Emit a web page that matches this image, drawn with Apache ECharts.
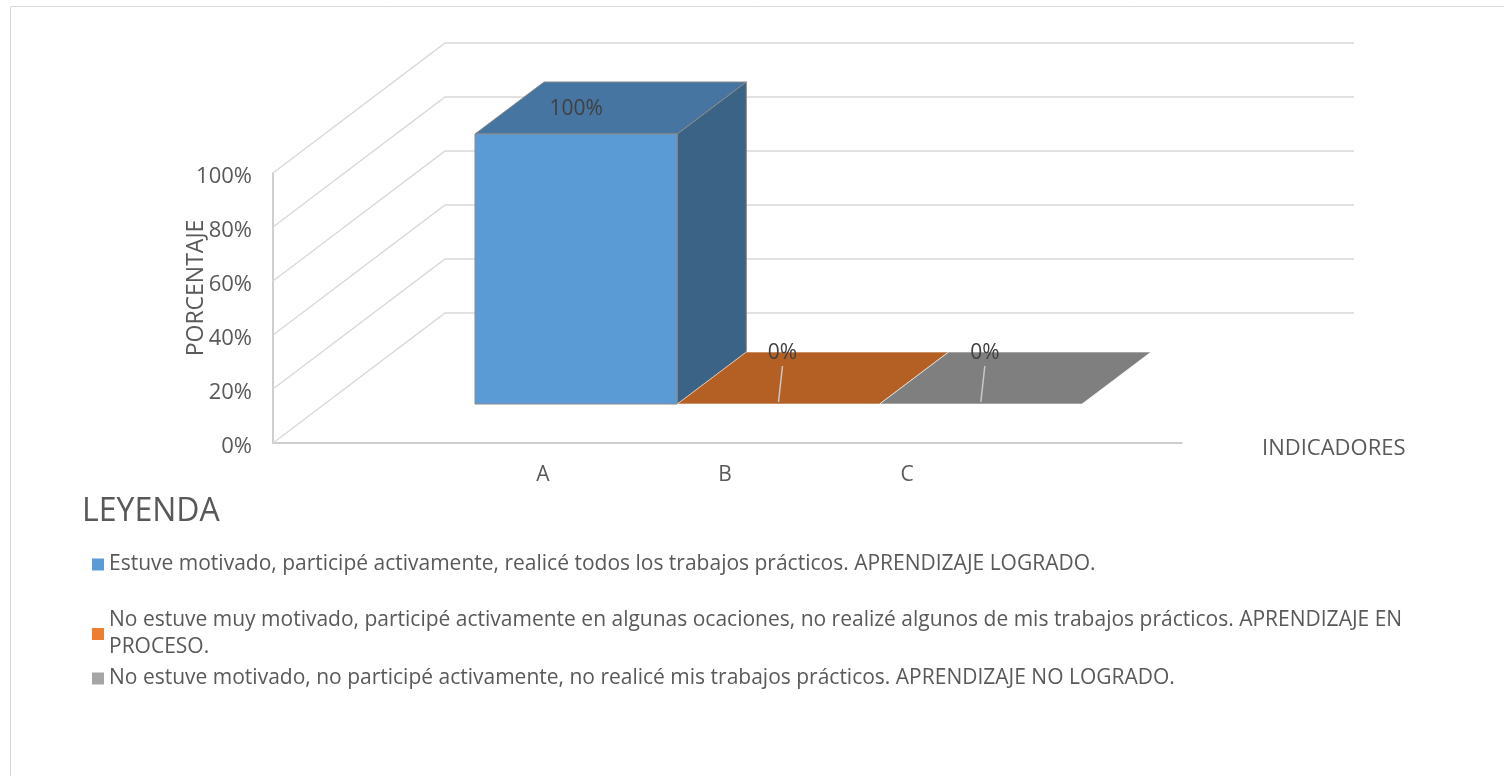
<!DOCTYPE html>
<html><head><meta charset="utf-8">
<script src="https://cdn.jsdelivr.net/npm/echarts@6/dist/echarts.min.js"></script>
<style>html,body{margin:0;padding:0;background:#fff}#c{width:1504px;height:776px}</style>
</head><body><div id="c"></div>
<script>
const categories = ['A', 'B', 'C'];
const values = [1, 0, 0];
const seriesNames = [
  'Estuve motivado, participé activamente, realicé todos los trabajos prácticos. APRENDIZAJE LOGRADO.',
  'No estuve muy motivado, participé activamente en algunas ocaciones, no realizé algunos de mis trabajos prácticos. APRENDIZAJE EN PROCESO.',
  'No estuve motivado, no participé activamente, no realicé mis trabajos prácticos. APRENDIZAJE NO LOGRADO.'
];
const yTicks = [0, 0.2, 0.4, 0.6, 0.8, 1];

const frontColors = ['#5B9BD5', '#ED7D31', '#A5A5A5'];
const topColors = ['#4575A0', '#B45F23', '#7F7F7F'];
const sideColors = ['#3A6386', '#9E531E', '#6E6E6E'];
const FONT = 'Open Sans';
const TXT = '#595959';
const WALL_DX = 172, WALL_DY = -130;   // full depth offset of the walls
const BAR_DX = 69, BAR_DY = -52;       // depth of the bars

function pct(v) { return Math.round(v * 100) + '%'; }

const chart = echarts.init(document.getElementById('c'));

const barSeries = categories.map((cat, i) => ({
  type: 'custom',
  name: seriesNames[i],
  coordinateSystem: 'cartesian2d',
  xAxisIndex: 1, yAxisIndex: 1,
  itemStyle: { color: frontColors[i] },
  encode: { x: 0, y: 1 },
  z: 5,
  data: [[i, values[i]]],
  renderItem: function (params, api) {
    const idx = api.value(0), v = api.value(1);
    const p0 = api.coord([idx, 0]);
    const p1 = api.coord([idx, v]);
    const w = api.size([1, 0])[0];
    const xl = p0[0] - w / 2, xr = p0[0] + w / 2, yb = p0[1], yt = p1[1];
    const stroke = '#8a8a8a';
    const children = [];
    children.push({ type: 'polygon', shape: { points: [[xl, yt], [xr, yt], [xr + BAR_DX, yt + BAR_DY], [xl + BAR_DX, yt + BAR_DY]] },
      style: { fill: topColors[i], stroke: v > 0 ? stroke : 'rgba(255,255,255,0.6)', lineWidth: 1 } });
    if (yb - yt > 0.5) {
      children.push({ type: 'rect', shape: { x: xl, y: yt, width: w, height: yb - yt },
        style: { fill: frontColors[i], stroke: stroke, lineWidth: 1 } });
      children.push({ type: 'polygon', shape: { points: [[xr, yt], [xr + BAR_DX, yt + BAR_DY], [xr + BAR_DX, yb + BAR_DY], [xr, yb]] },
        style: { fill: sideColors[i], stroke: stroke, lineWidth: 1 } });
      children.push({ type: 'text', style: { x: p0[0], y: yt - 25, text: pct(v), fill: '#404040', font: '21px "' + FONT + '"', align: 'center', verticalAlign: 'middle' } });
    } else {
      children.push({ type: 'line', shape: { x1: p0[0], y1: yb - 2, x2: p0[0] + 4, y2: yb - 38 }, style: { stroke: '#c8c8c8', lineWidth: 1.5 } });
      children.push({ type: 'text', style: { x: p0[0] + 4, y: yb - 51, text: pct(v), fill: '#404040', font: '21px "' + FONT + '"', align: 'center', verticalAlign: 'middle' } });
    }
    return { type: 'group', children: children };
  }
}));

const wallSeries = {
  type: 'custom',
  name: 'walls',
  coordinateSystem: 'cartesian2d',
  xAxisIndex: 0, yAxisIndex: 0,
  encode: { x: 0, y: 1 },
  z: 1,
  silent: true,
  data: yTicks.map(v => [0, v]),
  renderItem: function (params, api) {
    const v = api.value(1);
    const p = api.coord([0, v]);
    const e = api.coord([1, v]);
    const bx = p[0] + WALL_DX, by = p[1] + WALL_DY;
    return { type: 'group', children: [
      { type: 'polyline', shape: { points: [[p[0], p[1]], [bx, by], [e[0] + WALL_DX, by]] },
        style: { stroke: '#d9d9d9', lineWidth: 1.5, fill: null } }
    ] };
  }
};

const legends = seriesNames.map((n, i) => ({
  data: [n],
  orient: 'vertical',
  left: 92,
  top: [551, 607, 665][i],
  padding: 0,
  itemWidth: 12, itemHeight: 12, itemGap: 0, itemTextGap: 8,
  icon: 'rect',
  selectedMode: false,
  formatter: function (name) { return name.replace('APRENDIZAJE EN PROCESO', 'APRENDIZAJE EN\nPROCESO'); },
  textStyle: { color: TXT, fontFamily: FONT, fontSize: 21, lineHeight: 27 }
}));

chart.setOption({
  animation: false,
  backgroundColor: '#fff',
  title: { text: 'LEYENDA', left: 77, top: 491, textStyle: { color: TXT, fontFamily: FONT, fontSize: 32, fontWeight: 'normal' } },
  graphic: [{ type: 'rect', shape: { x: 10.5, y: 6.5, width: 1500, height: 780 }, style: { fill: null, stroke: '#d9d9d9', lineWidth: 1 }, silent: true }],
  legend: legends,
  grid: [
    { left: 273, right: 322, top: 173, bottom: 333 },
    { left: 475, right: 422, top: 134, bottom: 372 },
    { left: 452, right: 506, top: 173, bottom: 333 }
  ],
  xAxis: [
    { gridIndex: 0, type: 'value', min: 0, max: 1, axisLine: { show: true, lineStyle: { color: '#bfbfbf', width: 1.5 } },
      axisTick: { show: false }, axisLabel: { show: false }, splitLine: { show: false },
      name: '{n|INDICADORES}', nameLocation: 'end', nameGap: 80,
      nameTextStyle: { color: TXT, fontFamily: FONT, fontSize: 22, verticalAlign: 'middle',
        rich: { n: { color: TXT, fontFamily: FONT, fontSize: 22, padding: [12, 0, 0, 0] } } } },
    { gridIndex: 1, type: 'category', data: categories, boundaryGap: true, show: false },
    { gridIndex: 2, type: 'category', data: categories, boundaryGap: true,
      axisLine: { show: false }, axisTick: { show: false },
      axisLabel: { color: TXT, fontFamily: FONT, fontSize: 21, margin: 22 } }
  ],
  yAxis: [
    { gridIndex: 0, type: 'value', min: 0, max: 1, interval: 0.2,
      axisLine: { show: true, lineStyle: { color: '#bfbfbf', width: 1.5 } }, axisTick: { show: false },
      splitLine: { show: false },
      axisLabel: { formatter: v => '{t|' + pct(v) + '}', color: TXT, fontFamily: FONT, fontSize: 22, margin: 21,
        rich: { t: { color: TXT, fontFamily: FONT, fontSize: 22, padding: [7, 0, 0, 0] } } },
      name: 'PORCENTAJE', nameLocation: 'middle', nameRotate: 90, nameGap: 65, nameMoveOverlap: false,
      nameTextStyle: { color: TXT, fontFamily: FONT, fontSize: 23, padding: [0, 0, 0, 40] } },
    { gridIndex: 1, type: 'value', min: 0, max: 1, show: false },
    { gridIndex: 2, type: 'value', min: 0, max: 1, show: false }
  ],
  series: [wallSeries].concat(barSeries)
});
</script></body></html>
